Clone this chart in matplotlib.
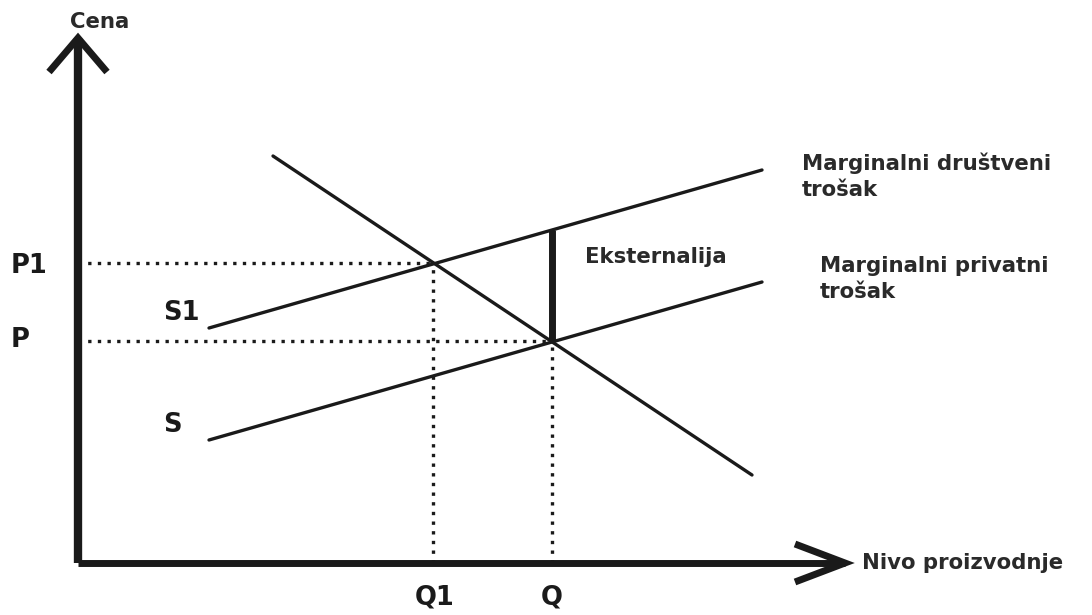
import matplotlib
matplotlib.use("Agg")
import matplotlib.pyplot as plt

# Data (quantity, price units; origin at axis corner)
demand_q = [195, 674]
demand_p = [407, 88]
msc_q = [131, 684]
msc_p = [235, 393]
mpc_q = [131, 684]
mpc_p = [123, 281]
Q1, P1 = 355, 300
Q, P = 474, 222
ext_top = 333
axis_q_max = 767
axis_p_max = 525

fig = plt.figure(figsize=(10.92, 6.15), dpi=100)
ax = fig.add_axes([0, 0, 1, 1])
ax.set_xlim(-78, 1014)
ax.set_ylim(-52, 563)
ax.axis("off")

fam = ["DejaVu Sans"]
col = "#1a1a1a"

# axes
ax.plot([0, 0], [0, axis_p_max], color=col, lw=6, solid_capstyle="butt")
ax.plot([0, axis_q_max], [0, 0], color=col, lw=5, solid_capstyle="butt")
ax.plot([-29, 0, 29], [axis_p_max - 34, axis_p_max, axis_p_max - 34], color=col, lw=5,
        solid_joinstyle="miter", solid_capstyle="butt")
ax.plot([axis_q_max - 50, axis_q_max, axis_q_max - 50], [19, 0, -19], color=col, lw=5,
        solid_joinstyle="miter", solid_capstyle="butt")

# dotted guides
dot = dict(color=col, lw=2.4, linestyle=(0, (1, 1.9)))
ax.plot([0, Q1], [P1, P1], **dot)
ax.plot([0, Q], [P, P], **dot)
ax.plot([Q1, Q1], [0, P1], **dot)
ax.plot([Q, Q], [0, P], **dot)

# curves
ax.plot(demand_q, demand_p, color=col, lw=2.4, solid_capstyle="round")
ax.plot(msc_q, msc_p, color=col, lw=2.4, solid_capstyle="round")
ax.plot(mpc_q, mpc_p, color=col, lw=2.4, solid_capstyle="round")

# externality
ax.plot([Q, Q], [P, ext_top], color=col, lw=5, solid_capstyle="butt")

# labels
big = dict(family=fam, fontweight="bold", fontsize=18.5, color=col, va="center")
ax.text(-67, P1 - 3, "P1", ha="left", **big)
ax.text(-67, P + 1, "P", ha="left", **big)
ax.text(85, 250, "S1", ha="left", **big)
ax.text(85, 138, "S", ha="left", **big)
ax.text(Q1 + 2, -35, "Q1", ha="center", **big)
ax.text(Q, -35, "Q", ha="center", **big)

small = dict(family=fam, fontweight="bold", fontsize=15.3, color="#2a2a2a", va="center")
ax.text(22, 541, "Cena", ha="center", **small)
ax.text(784, 0, "Nivo proizvodnje", ha="left", **small)
ax.text(507, 306, "Eksternalija", ha="left", **small)
ax.text(724, 410, "Marginalni društveni\ntrošak", ha="left", linespacing=1.35,
        **{**small, "va": "top"})
ax.text(742, 307, "Marginalni privatni\ntrošak", ha="left", linespacing=1.35,
        **{**small, "va": "top"})

fig.savefig("out.png", dpi=100)
